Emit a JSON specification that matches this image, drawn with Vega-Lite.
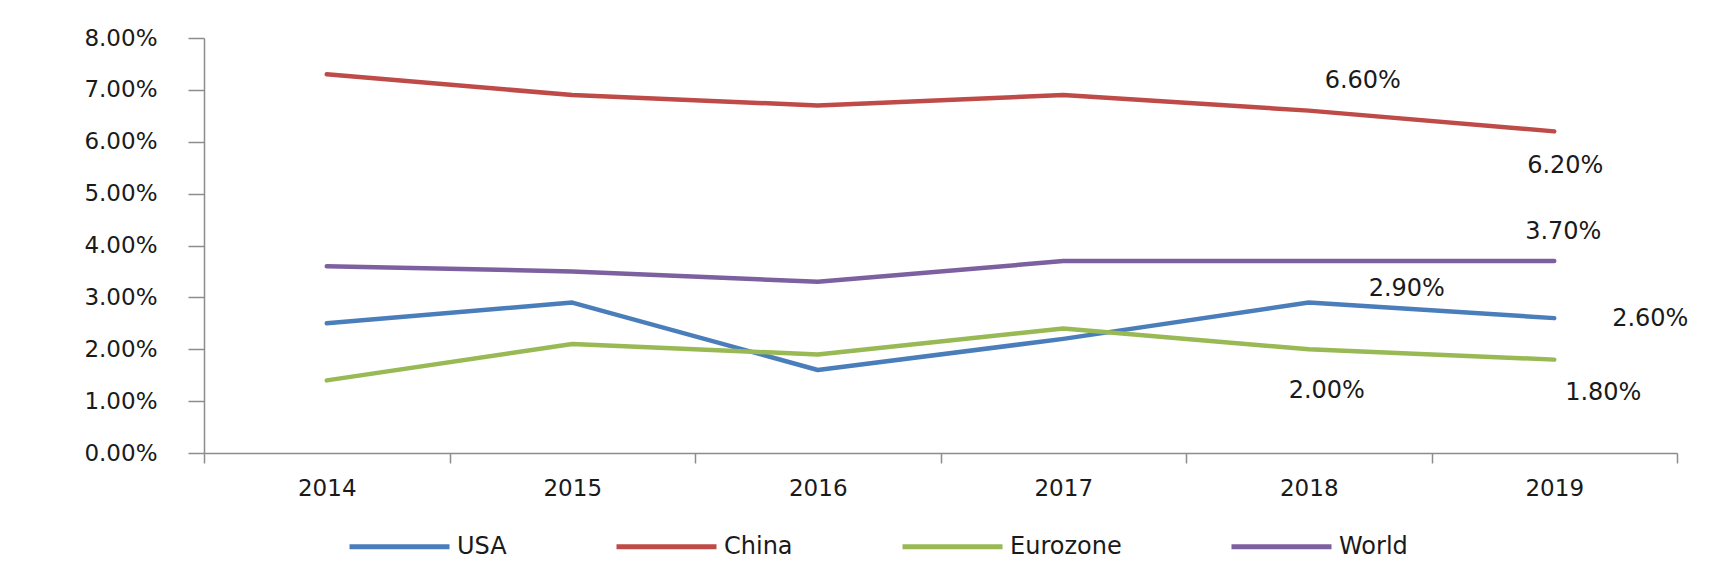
{
  "$schema": "https://vega.github.io/schema/vega-lite/v6.json",
  "width": 1473,
  "height": 415,
  "autosize": {"type": "none"},
  "padding": {"left": 204, "top": 38, "right": 49, "bottom": 128},
  "background": "white",
  "config": {
    "view": {"stroke": null},
    "font": "DejaVu Sans",
    "axis": {"grid": false, "domainColor": "#8c8c8c", "tickColor": "#8c8c8c", "domainWidth": 1.5, "tickWidth": 1.5, "labelColor": "#1a1a1a", "labelFont": "DejaVu Sans", "labelFontSize": 23, "title": null}
  },
  "data": {
    "values": [
      {"year": "2014", "series": "USA", "value": 0.025},
      {"year": "2015", "series": "USA", "value": 0.029},
      {"year": "2016", "series": "USA", "value": 0.016},
      {"year": "2017", "series": "USA", "value": 0.022},
      {"year": "2018", "series": "USA", "value": 0.029},
      {"year": "2019", "series": "USA", "value": 0.026},
      {"year": "2014", "series": "China", "value": 0.073},
      {"year": "2015", "series": "China", "value": 0.069},
      {"year": "2016", "series": "China", "value": 0.067},
      {"year": "2017", "series": "China", "value": 0.069},
      {"year": "2018", "series": "China", "value": 0.066},
      {"year": "2019", "series": "China", "value": 0.062},
      {"year": "2014", "series": "Eurozone", "value": 0.014},
      {"year": "2015", "series": "Eurozone", "value": 0.021},
      {"year": "2016", "series": "Eurozone", "value": 0.019},
      {"year": "2017", "series": "Eurozone", "value": 0.024},
      {"year": "2018", "series": "Eurozone", "value": 0.020},
      {"year": "2019", "series": "Eurozone", "value": 0.018},
      {"year": "2014", "series": "World", "value": 0.036},
      {"year": "2015", "series": "World", "value": 0.035},
      {"year": "2016", "series": "World", "value": 0.033},
      {"year": "2017", "series": "World", "value": 0.037},
      {"year": "2018", "series": "World", "value": 0.037},
      {"year": "2019", "series": "World", "value": 0.037}
    ]
  },
  "encoding": {
    "x": {
      "field": "year", "type": "ordinal",
      "scale": {"type": "band", "paddingInner": 0, "paddingOuter": 0},
      "axis": {"labelAngle": 0, "tickBand": "extent", "tickSize": 10, "labelPadding": 14, "domainExtent": true}
    },
    "y": {
      "field": "value", "type": "quantitative",
      "scale": {"domain": [0, 0.08], "nice": false, "zero": true},
      "axis": {"values": [0, 0.01, 0.02, 0.03, 0.04, 0.05, 0.06, 0.07, 0.08], "format": ".2%", "tickSize": 16, "labelPadding": 31}
    }
  },
  "layer": [
    {
      "mark": {"type": "line", "strokeWidth": 4.5, "strokeCap": "round", "strokeJoin": "round"},
      "encoding": {
        "color": {
          "field": "series", "type": "nominal",
          "scale": {"domain": ["USA", "China", "Eurozone", "World"], "range": ["#4a7ebb", "#be4b48", "#98b954", "#7d60a0"]},
          "legend": {
            "title": null, "orient": "none", "direction": "horizontal",
            "legendX": 143, "legendY": 456,
            "symbolType": "stroke", "symbolSize": 10000, "symbolStrokeWidth": 5,
            "labelFont": "DejaVu Sans", "labelFontSize": 24, "labelColor": "#1a1a1a",
            "labelOffset": 5, "columnPadding": 99, "labelLimit": 300
          }
        }
      }
    },
    {
      "transform": [{"filter": "(datum.series == 'China' && datum.year == '2018')"}],
      "mark": {"type": "text", "fontSize": 24, "font": "DejaVu Sans", "color": "#1a1a1a", "dx": 54, "dy": -30},
      "encoding": {"text": {"field": "value", "type": "quantitative", "format": ".2%"}}
    },
    {
      "transform": [{"filter": "(datum.series == 'China' && datum.year == '2019')"}],
      "mark": {"type": "text", "fontSize": 24, "font": "DejaVu Sans", "color": "#1a1a1a", "dx": 11, "dy": 35},
      "encoding": {"text": {"field": "value", "type": "quantitative", "format": ".2%"}}
    },
    {
      "transform": [{"filter": "(datum.series == 'World' && datum.year == '2019')"}],
      "mark": {"type": "text", "fontSize": 24, "font": "DejaVu Sans", "color": "#1a1a1a", "dx": 9, "dy": -29},
      "encoding": {"text": {"field": "value", "type": "quantitative", "format": ".2%"}}
    },
    {
      "transform": [{"filter": "(datum.series == 'USA' && datum.year == '2018')"}],
      "mark": {"type": "text", "fontSize": 24, "font": "DejaVu Sans", "color": "#1a1a1a", "dx": 98, "dy": -14},
      "encoding": {"text": {"field": "value", "type": "quantitative", "format": ".2%"}}
    },
    {
      "transform": [{"filter": "(datum.series == 'USA' && datum.year == '2019')"}],
      "mark": {"type": "text", "fontSize": 24, "font": "DejaVu Sans", "color": "#1a1a1a", "dx": 96, "dy": 1},
      "encoding": {"text": {"field": "value", "type": "quantitative", "format": ".2%"}}
    },
    {
      "transform": [{"filter": "(datum.series == 'Eurozone' && datum.year == '2018')"}],
      "mark": {"type": "text", "fontSize": 24, "font": "DejaVu Sans", "color": "#1a1a1a", "dx": 18, "dy": 42},
      "encoding": {"text": {"field": "value", "type": "quantitative", "format": ".2%"}}
    },
    {
      "transform": [{"filter": "(datum.series == 'Eurozone' && datum.year == '2019')"}],
      "mark": {"type": "text", "fontSize": 24, "font": "DejaVu Sans", "color": "#1a1a1a", "dx": 49, "dy": 33},
      "encoding": {"text": {"field": "value", "type": "quantitative", "format": ".2%"}}
    }
  ]
}
